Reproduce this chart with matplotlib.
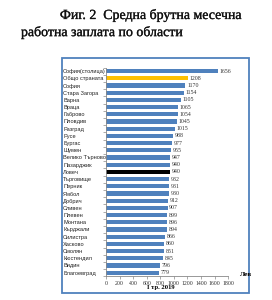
import matplotlib
matplotlib.use("Agg")
import matplotlib.pyplot as plt
import matplotlib.patheffects as pe
from matplotlib.patches import Rectangle

# Data
regions = ['София(столица)', 'Общо страната', 'София', 'Стара Загора', 'Варна',
           'Враца', 'Габрово', 'Пловдив', 'Разград', 'Русе', 'Бургас', 'Шумен',
           'Велико Търново', 'Пазарджик', 'Ловеч', 'Търговище', 'Перник', 'Ямбол',
           'Добрич', 'Сливен', 'Плевен', 'Монтана', 'Кърджали', 'Силистра',
           'Хасково', 'Смолян', 'Кюстендил', 'Видин', 'Благоевград']
salaries = [1656, 1208, 1170, 1154, 1105, 1065, 1054, 1045, 1015, 988, 977, 955,
            947, 940, 940, 932, 931, 930, 912, 907, 899, 896, 894, 866, 860, 851,
            845, 796, 779]
x_ticks = [0, 200, 400, 600, 800, 1000, 1200, 1400, 1600, 1800]

blue = '#4F81BD'
colors = [blue] * len(regions)
colors[regions.index('Общо страната')] = '#FFC000'
colors[regions.index('Ловеч')] = '#000000'

fig = plt.figure(figsize=(2.72, 3.0), dpi=100)
fig.patch.set_facecolor('white')

# title
title_kw = dict(family='Liberation Serif', fontsize=10, color='#111111')
t1 = fig.text(0.555, 0.95, 'Фиг. 2  Средна брутна месечна', ha='center', va='center',
              **title_kw)
t2 = fig.text(0.077, 0.893, 'работна заплата по области', ha='left', va='center',
              **title_kw)
for t in (t1, t2):
    t.set_path_effects([pe.withStroke(linewidth=0.2, foreground='#111111')])

# blue frame round the chart
fig.patches.append(Rectangle((0.228, 0.023), 0.687, 0.784, transform=fig.transFigure,
                             fill=False, edgecolor=blue, linewidth=1.3))

ax = fig.add_axes([0.39, 0.079, 0.4485, 0.696])
y = list(range(len(regions)))
ax.barh(y, salaries, height=0.58, color=colors)
ax.set_ylim(len(regions) - 0.5, -0.5)
ax.set_xlim(0, 1800)

for yi, v in zip(y, salaries):
    ax.text(v + 25, yi, str(v), va='center', ha='left', fontsize=4.2,
            family='Liberation Serif', color='#333333')

ax.set_yticks(y)
ax.set_yticklabels(regions, fontsize=4.1, color='#222222',
                   family=['Liberation Sans Narrow', 'Liberation Sans'])
ax.set_yticks([i + 0.5 for i in range(-1, len(regions))], minor=True)
ax.tick_params(axis='y', which='major', length=0, pad=2)
ax.tick_params(axis='y', which='minor', length=2, width=0.5, color='#888888')
for lbl in ax.get_yticklabels():
    lbl.set_horizontalalignment('left')
    lbl.set_x(-0.33)

ax.set_xticks(x_ticks)
ax.set_xticklabels([str(t) for t in x_ticks], fontsize=4.2, family='Liberation Serif',
                   color='#333333')
ax.tick_params(axis='x', length=2, width=0.5, color='#888888', pad=1.5)

for s in ['top', 'right']:
    ax.spines[s].set_visible(False)
for s in ['left', 'bottom']:
    ax.spines[s].set_color('#888888')
    ax.spines[s].set_linewidth(0.6)

fig.text(0.59, 0.04, 'I тр. 2019', ha='center', va='center', fontsize=4.8,
         family='Liberation Serif', fontweight='bold')
fig.text(0.9, 0.085, 'Лев', ha='center', va='center', fontsize=5,
         family='Liberation Serif', fontweight='bold')

fig.savefig('out.png', dpi=100)
